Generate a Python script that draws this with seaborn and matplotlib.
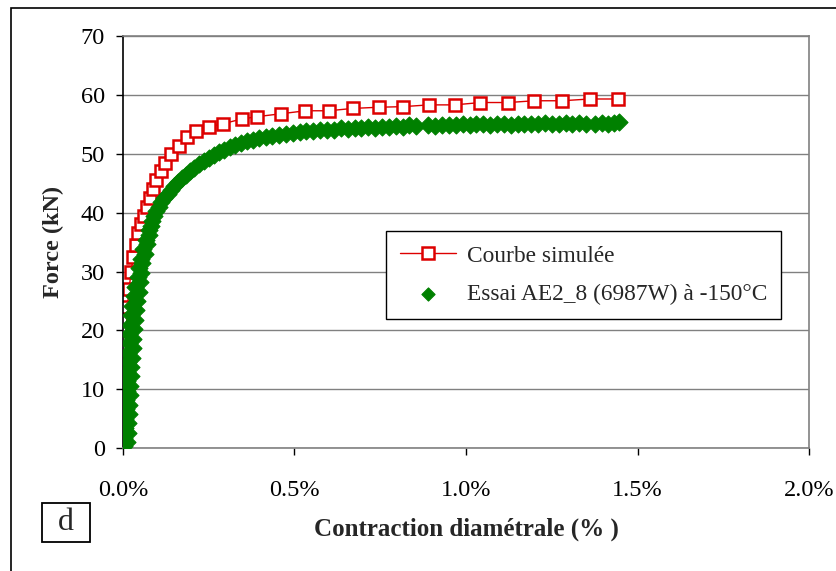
import seaborn as sns
import matplotlib.pyplot as plt
import matplotlib.patches as mpatches
import pandas as pd

# courbe simulée (contraction en %, force en kN)
sim_x = [0.000, 0.003, 0.005, 0.008, 0.010, 0.013, 0.018, 0.024, 0.030, 0.037,
         0.045, 0.054, 0.062, 0.070, 0.078, 0.087, 0.097, 0.110, 0.124, 0.141,
         0.164, 0.187, 0.213, 0.251, 0.292, 0.346, 0.391, 0.462, 0.532, 0.600,
         0.670, 0.746, 0.816, 0.892, 0.967, 1.042, 1.123, 1.199, 1.280, 1.360, 1.442]
sim_y = [0, 5, 10, 15, 20, 24, 27, 30, 32.5, 34.5,
         36.5, 38, 39.5, 41, 42.5, 44, 45.5, 47, 48.5, 50,
         51.3, 52.8, 53.8, 54.6, 55.1, 55.9, 56.3, 56.8, 57.3, 57.3,
         57.7, 57.9, 58.0, 58.3, 58.3, 58.7, 58.7, 59.0, 59.0, 59.3, 59.3]

# essai AE2_8 (points relevés)
exp_x = [0.003, 0.013, 0.002, 0.015, 0.005, 0.016, 0.006, 0.018, 0.008, 0.019,
         0.009, 0.021, 0.011, 0.022, 0.012, 0.024, 0.013, 0.025, 0.014, 0.027,
         0.016, 0.028, 0.017, 0.030, 0.019, 0.032, 0.022, 0.035, 0.024, 0.038,
         0.027, 0.040, 0.033, 0.047, 0.036, 0.049, 0.043, 0.053, 0.048, 0.057,
         0.053, 0.063, 0.060, 0.069, 0.066, 0.075, 0.075, 0.082, 0.084, 0.092,
         0.096, 0.104, 0.112, 0.120, 0.130, 0.140, 0.150, 0.160, 0.172, 0.184,
         0.196, 0.208, 0.222, 0.236, 0.250, 0.265, 0.280, 0.296, 0.312, 0.328,
         0.345, 0.362, 0.380, 0.398, 0.416, 0.435, 0.455, 0.475, 0.495, 0.515,
         0.535, 0.555, 0.575, 0.595, 0.615, 0.635, 0.655, 0.675, 0.695, 0.715,
         0.735, 0.755, 0.775, 0.795, 0.815, 0.835, 0.855,
         0.890, 0.910, 0.930, 0.950, 0.970, 0.990, 1.010, 1.030, 1.050, 1.070,
         1.090, 1.110, 1.130, 1.150, 1.170, 1.190, 1.210, 1.230, 1.250, 1.270,
         1.290, 1.310, 1.330, 1.350,
         1.375, 1.395, 1.415, 1.430, 1.447]
exp_y = [0.3, 1.0, 1.8, 2.6, 3.4, 4.2, 5.0, 5.8, 6.6, 7.4,
         8.2, 9.0, 9.8, 10.6, 11.4, 12.2, 13.0, 13.8, 14.6, 15.4,
         16.2, 17.0, 17.8, 18.6, 19.4, 20.2, 21.0, 21.8, 22.6, 23.4,
         24.2, 25.0, 25.8, 26.6, 27.4, 28.2, 29.0, 29.8, 30.6, 31.4,
         32.2, 33.0, 33.8, 34.6, 35.4, 36.2, 37.0, 37.8, 38.6, 39.4,
         40.2, 41.0, 41.8, 42.5, 43.2, 43.9, 44.6, 45.2, 45.8, 46.4,
         47.0, 47.6, 48.2, 48.8, 49.3, 49.8, 50.3, 50.7, 51.1, 51.5,
         51.8, 52.1, 52.4, 52.6, 52.9, 53.1, 53.2, 53.4, 53.5, 53.7,
         53.8, 53.9, 54.0, 54.1, 54.0, 54.3, 54.2, 54.4, 54.3, 54.5,
         54.4, 54.6, 54.5, 54.7, 54.6, 54.8, 54.7,
         54.8, 54.7, 54.9, 54.8, 54.8, 55.0, 54.8, 55.0, 55.1, 54.9,
         55.0, 55.1, 54.9, 55.0, 55.1, 55.0, 55.1, 55.2, 55.0, 55.1,
         55.2, 55.0, 55.2, 55.1,
         55.1, 55.2, 55.1, 55.3, 55.4]

x_ticks = [0.0, 0.5, 1.0, 1.5, 2.0]
x_labels = ['0.0%', '0.5%', '1.0%', '1.5%', '2.0%']
y_ticks = [0, 10, 20, 30, 40, 50, 60, 70]

sim = pd.DataFrame({'x': sim_x, 'y': sim_y})
essai = pd.DataFrame({'x': exp_x, 'y': exp_y})

sns.set_style('white')
plt.rcParams['font.family'] = ['Liberation Serif', 'DejaVu Serif']

fig = plt.figure(figsize=(8.36, 5.71), dpi=100)
ax = fig.add_axes([0.147, 0.215, 0.821, 0.722])

sns.lineplot(data=sim, x='x', y='y', ax=ax, sort=False, estimator=None,
             color='#dd0000', linewidth=1.0, marker='s', markersize=8,
             markerfacecolor='white', markeredgecolor='#dd0000',
             markeredgewidth=1.8, label='Courbe simulée', zorder=2)
sns.scatterplot(data=essai, x='x', y='y', ax=ax, marker='D', s=75,
                color='#008000', edgecolor='#008000', linewidth=0.8,
                label='Essai AE2_8 (6987W) à -150°C', zorder=3)

ax.set_xlim(0, 2.0)
ax.set_ylim(0, 70)
ax.set_xticks(x_ticks)
ax.set_xticklabels(x_labels)
ax.set_yticks(y_ticks)
ax.yaxis.grid(True, color='#808080', linewidth=1.0)
ax.xaxis.grid(False)
ax.set_axisbelow(True)

for side in ['top', 'right', 'bottom']:
    ax.spines[side].set_color('#808080')
    ax.spines[side].set_linewidth(1.2)
ax.spines['left'].set_color('black')
ax.spines['left'].set_linewidth(1.2)

ax.tick_params(axis='both', direction='out', length=5, width=1, colors='black',
               labelsize=17.5)
ax.tick_params(axis='x', pad=18, bottom=True)
ax.tick_params(axis='y', pad=8, left=True)

ax.set_xlabel('Contraction diamétrale (% )', fontsize=18, fontweight='bold',
              labelpad=12)
ax.set_ylabel('Force (kN)', fontsize=17.5, fontweight='bold', labelpad=12)

leg = ax.legend(loc='upper left', bbox_to_anchor=(0.462, 0.595),
                bbox_transform=fig.transFigure, fontsize=16.8, frameon=True,
                fancybox=False, edgecolor='black', framealpha=1,
                handlelength=2.4, handletextpad=0.45, labelspacing=0.72,
                borderpad=0.6, borderaxespad=0)
leg.get_frame().set_linewidth(1.0)
leg.legend_handles[1].set_sizes([45])

# petite étiquette "d" et cadre de la figure
fig.patches.append(mpatches.Rectangle((42 / 836, 1 - 542 / 571), 48 / 836, 39 / 571,
                                      transform=fig.transFigure, fill=False,
                                      edgecolor='black', linewidth=1.3))
fig.text(66 / 836, 1 - 522 / 571, 'd', fontsize=23, ha='center', va='center')
fig.patches.append(mpatches.Rectangle((11 / 836, -0.1), 1.2, 1 - 8 / 571 + 0.1,
                                      transform=fig.transFigure, fill=False,
                                      edgecolor='black', linewidth=1.2))

fig.savefig('out.png', dpi=100)
